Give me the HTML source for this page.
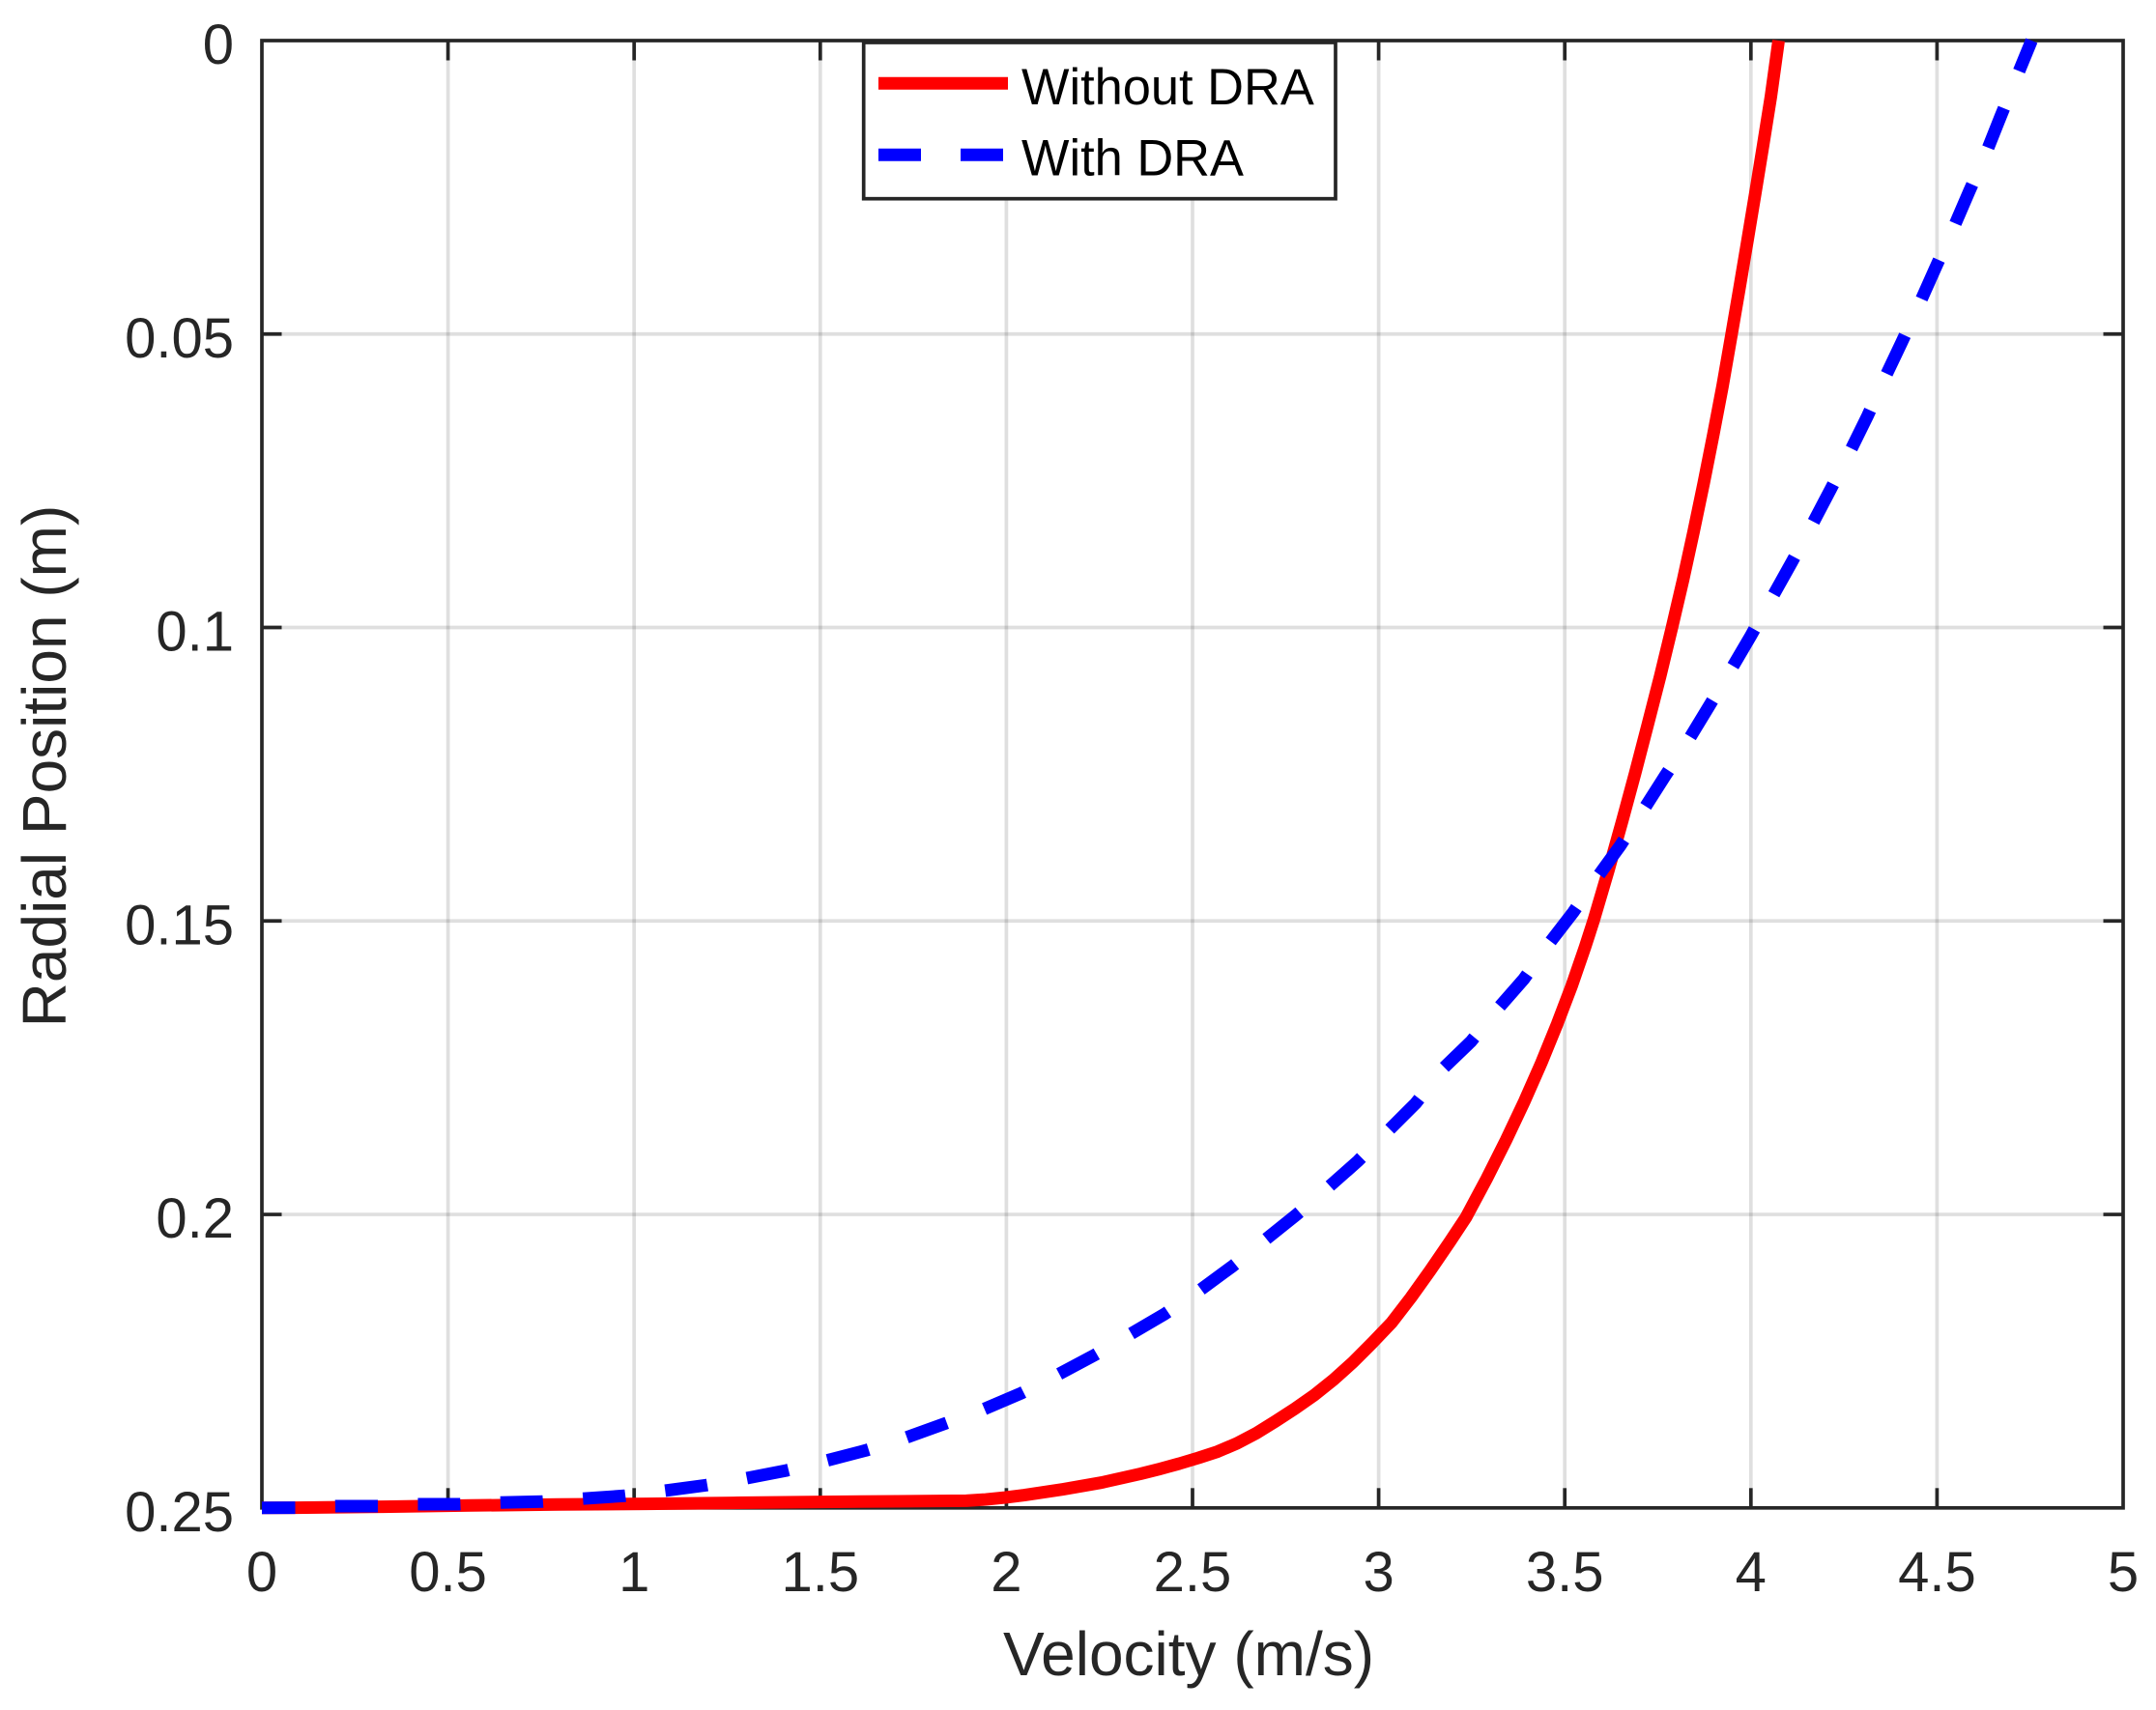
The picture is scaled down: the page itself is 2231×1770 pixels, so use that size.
<!DOCTYPE html>
<html lang="en">
<head>
<meta charset="utf-8">
<title>Velocity profile with and without DRA</title>
<style>
  html, body { margin: 0; padding: 0; background: #fff; }
  svg { display: block; font-family: "Liberation Sans", Arial, sans-serif; }
</style>
</head>
<body>
<svg id="chart" xmlns="http://www.w3.org/2000/svg" width="2231" height="1770" viewBox="0 0 2231 1770">
  <rect x="0" y="0" width="2231" height="1770" fill="#ffffff"/>
  <g id="grid"></g>
  <g id="axes"></g>
  <text x="1230" y="1734" font-size="64" fill="#262626" text-anchor="middle">Velocity (m/s)</text>
  <text transform="translate(68 793) rotate(-90)" font-size="64" fill="#262626" text-anchor="middle">Radial Position (m)</text>
  <g id="series"></g>
  <g>
    <rect x="893.7" y="44" width="488.3" height="161.7" fill="#ffffff" stroke="#262626" stroke-width="3.7"/>
    <line x1="909" y1="86.3" x2="1043" y2="86.3" stroke="#ff0000" stroke-width="13"/>
    <text x="1057" y="108" font-size="52.4" fill="#000000">Without DRA</text>
    <line x1="909" y1="160.3" x2="1038" y2="160.3" stroke="#0000ff" stroke-width="13" stroke-dasharray="44 41"/>
    <text x="1057" y="181.7" font-size="52.4" fill="#000000">With DRA</text>
  </g>
</svg>
<script>
const xTicks = [0, 0.5, 1, 1.5, 2, 2.5, 3, 3.5, 4, 4.5, 5];
const xTickLabels = ['0', '0.5', '1', '1.5', '2', '2.5', '3', '3.5', '4', '4.5', '5'];
const yTicks = [0, 0.05, 0.1, 0.15, 0.2, 0.25];
const yTickLabels = ['0', '0.05', '0.1', '0.15', '0.2', '0.25'];

const withoutDraVelocity = [0, 0.0909, 0.3245, 0.5607, 0.7970, 1.0332, 1.2669, 1.5031, 1.7056, 1.8925, 1.9445, 1.9964, 2.0483, 2.1002, 2.1521, 2.2040, 2.2560, 2.3079, 2.3598, 2.4117, 2.4637, 2.5156, 2.5675, 2.6194, 2.6713, 2.7233, 2.7752, 2.8271, 2.8790, 2.9309, 2.9829, 3.0348, 3.0867, 3.1386, 3.1918, 3.2347, 3.2902, 3.3424, 3.3915, 3.4372, 3.4795, 3.5190, 3.5548, 3.5774, 3.6179, 3.6542, 3.6893, 3.7230, 3.7563, 3.7877, 3.8180, 3.8463, 3.8733, 3.8990, 3.9237, 3.9481, 3.9686, 3.9904, 4.0119, 4.0330, 4.0537, 4.0745];
const withoutDraPosition = [0.25, 0.24997, 0.24980, 0.24959, 0.24942, 0.24931, 0.24914, 0.24898, 0.24888, 0.24877, 0.24856, 0.24823, 0.24782, 0.24733, 0.24683, 0.24626, 0.24568, 0.24494, 0.24420, 0.24337, 0.24247, 0.24148, 0.24041, 0.23901, 0.23728, 0.23523, 0.23309, 0.23078, 0.22815, 0.22519, 0.22189, 0.21844, 0.21416, 0.20955, 0.20461, 0.20049, 0.19391, 0.18733, 0.18074, 0.17416, 0.16757, 0.16099, 0.15440, 0.14996, 0.14123, 0.13300, 0.12477, 0.11654, 0.10831, 0.10008, 0.09185, 0.08362, 0.07539, 0.06716, 0.05893, 0.05004, 0.04247, 0.03424, 0.02601, 0.01778, 0.00955, 0];

const withDraVelocity = [0, 0.0909, 0.1973, 0.3115, 0.4180, 0.5322, 0.6412, 0.7529, 0.8593, 0.9735, 1.0826, 1.1931, 1.2991, 1.4097, 1.5151, 1.6251, 1.7290, 1.8367, 1.9359, 2.0405, 2.1365, 2.2352, 2.3287, 2.4247, 2.5169, 2.6064, 2.6921, 2.7796, 2.8609, 2.9439, 3.0218, 3.0997, 3.1724, 3.2477, 3.3178, 3.3905, 3.4546, 3.5228, 3.5852, 3.6493, 3.7098, 3.7695, 3.8310, 3.8889, 3.9434, 3.9997, 4.0535, 4.1096, 4.1630, 4.2147, 4.2653, 4.3139, 4.3577, 4.4042, 4.4509, 4.4964, 4.5423, 4.5854, 4.6301, 4.6703, 4.7118, 4.7541];
const withDraPosition = [0.25, 0.24997, 0.24970, 0.24970, 0.24937, 0.24937, 0.24909, 0.24893, 0.24843, 0.24794, 0.24707, 0.24613, 0.24498, 0.24361, 0.24197, 0.24015, 0.23806, 0.23559, 0.23328, 0.23044, 0.22736, 0.22402, 0.22056, 0.21699, 0.21304, 0.20887, 0.20448, 0.20003, 0.19559, 0.19093, 0.18599, 0.18105, 0.17517, 0.17056, 0.16513, 0.15986, 0.15410, 0.14850, 0.14274, 0.13714, 0.13122, 0.12529, 0.11931, 0.11327, 0.10751, 0.10142, 0.09527, 0.08890, 0.08265, 0.07639, 0.07014, 0.06388, 0.05774, 0.05153, 0.04511, 0.03864, 0.03222, 0.02585, 0.01943, 0.01301, 0.00654, 0];

const NS = 'http://www.w3.org/2000/svg';
const plotLeft = 271, plotRight = 2197, plotTop = 42, plotBottom = 1560.8;
const xMin = 0, xMax = 5, yMin = 0, yMax = 0.25;
const INK = '#262626', STROKE = 3.7, TICK = 20.5;

function xScale(v) { return plotLeft + (v - xMin) / (xMax - xMin) * (plotRight - plotLeft); }
function yScale(r) { return plotTop + (r - yMin) / (yMax - yMin) * (plotBottom - plotTop); }

function makeLine(x1, y1, x2, y2, color, width, opacity) {
  const el = document.createElementNS(NS, 'line');
  el.setAttribute('x1', x1);
  el.setAttribute('y1', y1);
  el.setAttribute('x2', x2);
  el.setAttribute('y2', y2);
  el.setAttribute('stroke', color);
  el.setAttribute('stroke-width', width);
  if (opacity !== undefined) el.setAttribute('stroke-opacity', opacity);
  return el;
}
function makeText(x, y, str, anchor) {
  const el = document.createElementNS(NS, 'text');
  el.setAttribute('x', x);
  el.setAttribute('y', y);
  el.setAttribute('font-size', '58');
  el.setAttribute('fill', INK);
  el.setAttribute('text-anchor', anchor);
  el.textContent = str;
  return el;
}

const gridLayer = document.getElementById('grid');
const axesLayer = document.getElementById('axes');
const seriesLayer = document.getElementById('series');

xTicks.forEach(function (v, i) {
  const px = xScale(v);
  if (i > 0 && i < xTicks.length - 1) {
    const g = makeLine(px, plotTop, px, plotBottom, INK, STROKE, 0.15);
    
    
    gridLayer.appendChild(g);
    const t1 = makeLine(px, plotBottom, px, plotBottom - TICK, INK, STROKE);
    
    
    axesLayer.appendChild(t1);
    const t2 = makeLine(px, plotTop, px, plotTop + TICK, INK, STROKE);
    
    
    axesLayer.appendChild(t2);
  }
  const label = makeText(px, 1647, xTickLabels[i], 'middle');
  
  
  axesLayer.appendChild(label);
});

yTicks.forEach(function (r, i) {
  const py = yScale(r);
  if (i > 0 && i < yTicks.length - 1) {
    const g = makeLine(plotLeft, py, plotRight, py, INK, STROKE, 0.15);
    
    
    gridLayer.appendChild(g);
    const t1 = makeLine(plotLeft, py, plotLeft + TICK, py, INK, STROKE);
    
    
    axesLayer.appendChild(t1);
    const t2 = makeLine(plotRight, py, plotRight - TICK, py, INK, STROKE);
    
    
    axesLayer.appendChild(t2);
  }
  const label = makeText(242, py + 24, yTickLabels[i], 'end');
  
  
  axesLayer.appendChild(label);
});

const frame = document.createElementNS(NS, 'rect');
frame.setAttribute('x', plotLeft);
frame.setAttribute('y', plotTop);
frame.setAttribute('width', plotRight - plotLeft);
frame.setAttribute('height', plotBottom - plotTop);
frame.setAttribute('fill', 'none');
frame.setAttribute('stroke', INK);
frame.setAttribute('stroke-width', STROKE);


axesLayer.appendChild(frame);

function pointsFor(xs, ys) {
  return xs.map(function (v, i) { return xScale(v).toFixed(2) + ',' + yScale(ys[i]).toFixed(2); }).join(' ');
}

const redLine = document.createElementNS(NS, 'polyline');
redLine.setAttribute('points', pointsFor(withoutDraVelocity, withoutDraPosition));
redLine.setAttribute('fill', 'none');
redLine.setAttribute('stroke', '#ff0000');
redLine.setAttribute('stroke-width', '13');
redLine.setAttribute('stroke-linejoin', 'round');


seriesLayer.appendChild(redLine);

const blueLine = document.createElementNS(NS, 'polyline');
blueLine.setAttribute('points', pointsFor(withDraVelocity, withDraPosition));
blueLine.setAttribute('fill', 'none');
blueLine.setAttribute('stroke', '#0000ff');
blueLine.setAttribute('stroke-width', '13');
blueLine.setAttribute('stroke-dasharray', '44 41.5');
blueLine.setAttribute('stroke-dashoffset', '9.5');


seriesLayer.appendChild(blueLine);
</script>
</body>
</html>
